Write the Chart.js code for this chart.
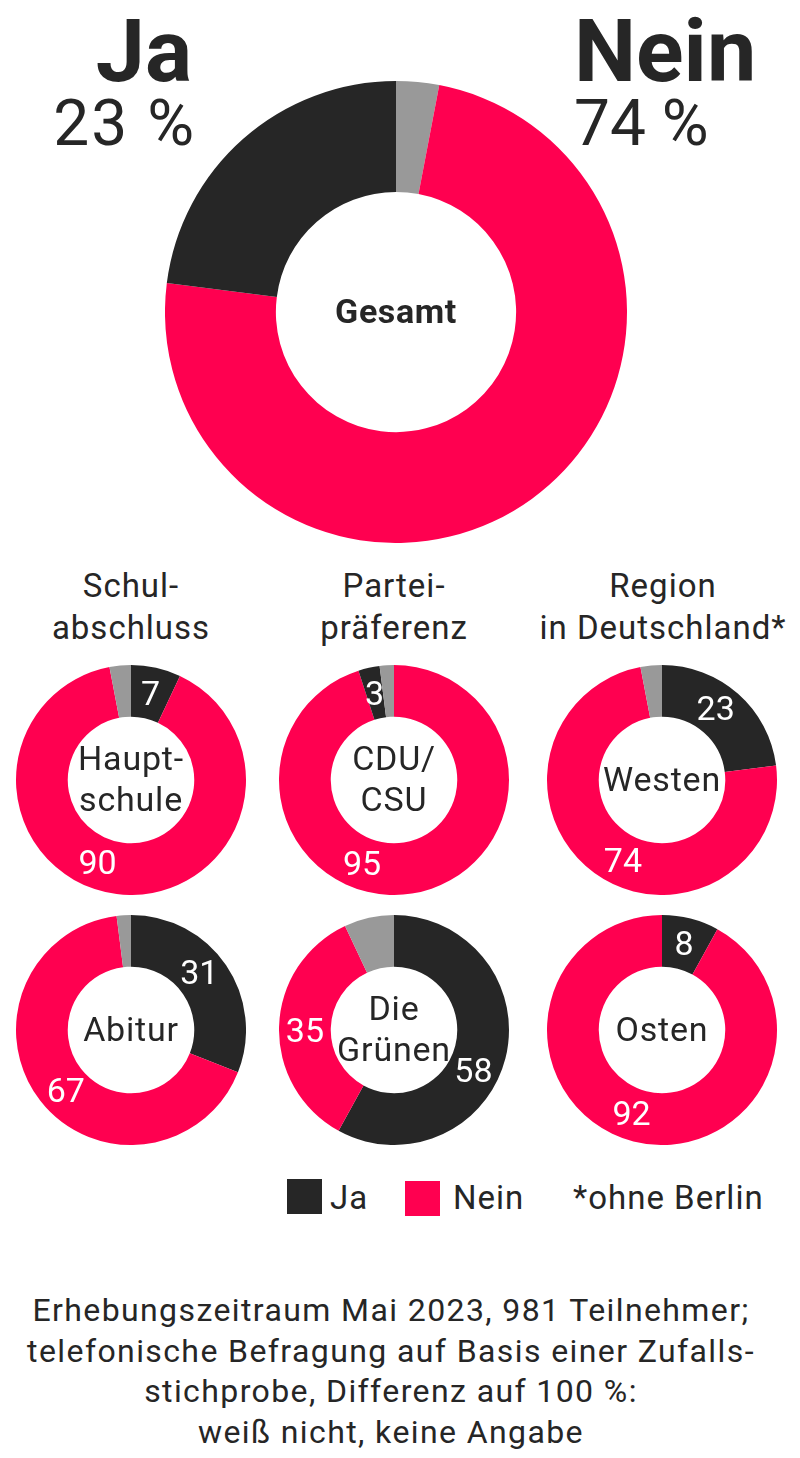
<!DOCTYPE html>
<html lang="de">
<head>
<meta charset="UTF-8">
<title>Umfrage Ja / Nein</title>
<script src="https://cdn.jsdelivr.net/npm/chart.js@4.4.0/dist/chart.umd.min.js"></script>
<style>
  html, body { margin: 0; padding: 0; background: #fff; }
  body { width: 800px; height: 1458px; position: relative; overflow: hidden;
         font-family: Roboto, "Liberation Sans", sans-serif; color: #262626; }
  .abs { position: absolute; }
  .big { font-weight: 700; font-size: 88px; line-height: 88px; }
  .pct { font-size: 64px; line-height: 64px; }
  .group { font-size: 33px; line-height: 42px; letter-spacing: 1px; text-align: center; width: 280px; }
  .legend { font-size: 33px; line-height: 36px; letter-spacing: 1px; }
  .swatch { width: 35px; height: 35px; }
  .note { font-size: 32px; line-height: 40.5px; letter-spacing: 1.4px; text-align: center; width: 800px; left: -9px; }
  canvas { position: absolute; }
</style>
</head>
<body>

<!-- Kopf -->
<div class="abs big" style="right:608px; top:7px;">Ja</div>
<div class="abs pct" style="right:604px; top:92px; letter-spacing:2px;">23 %</div>
<div class="abs big" style="left:574px; top:7px;">Nein</div>
<div class="abs pct" style="left:574px; top:92px;">74 %</div>

<!-- Gruppenüberschriften -->
<div class="abs group" id="g0" style="left:-9px; top:565px;"></div>
<div class="abs group" id="g1" style="left:254px; top:565px;"></div>
<div class="abs group" id="g2" style="left:523px; top:565px;"></div>

<canvas id="c0" width="462" height="462" style="left:165px; top:81px;"></canvas>
<canvas id="c1" width="230" height="230" style="left:16px; top:665px;"></canvas>
<canvas id="c2" width="230" height="230" style="left:16px; top:915px;"></canvas>
<canvas id="c3" width="230" height="230" style="left:279px; top:665px;"></canvas>
<canvas id="c4" width="230" height="230" style="left:279px; top:915px;"></canvas>
<canvas id="c5" width="230" height="230" style="left:547px; top:665px;"></canvas>
<canvas id="c6" width="230" height="230" style="left:547px; top:915px;"></canvas>

<!-- Legende -->
<div class="abs swatch" style="left:287px; top:1179px; background:#262626;"></div>
<div class="abs legend" style="left:330px; top:1180px;">Ja</div>
<div class="abs swatch" style="left:405px; top:1181px; background:#ff0050;"></div>
<div class="abs legend" style="left:453px; top:1180px;">Nein</div>
<div class="abs legend" style="left:573px; top:1180px;">*ohne Berlin</div>

<div class="abs note" style="top:1290px;">Erhebungszeitraum Mai 2023, 981 Teilnehmer;<br>telefonische Befragung auf Basis einer Zufalls-<br>stichprobe, Differenz auf 100 %:<br>weiß nicht, keine Angabe</div>

<script>
// Werte in Prozent
const donutNames = ['Gesamt', 'Haupt-\nschule', 'Abitur', 'CDU/\nCSU', 'Die\nGrünen', 'Westen', 'Osten'];
const jaValues   = [23, 7, 31, 3, 58, 23, 8];
const neinValues = [74, 90, 67, 95, 35, 74, 92];
const restValues = [3, 3, 2, 2, 7, 3, 0];
// Reihenfolge der Segmente im Uhrzeigersinn ab 12 Uhr
const segmentOrder = [
  ['rest', 'nein', 'ja'],
  ['ja', 'nein', 'rest'],
  ['ja', 'nein', 'rest'],
  ['nein', 'ja', 'rest'],
  ['ja', 'nein', 'rest'],
  ['ja', 'nein', 'rest'],
  ['ja', 'nein', 'rest']
];
const groupTitles = ['Schul-\nabschluss', 'Partei-\npräferenz', 'Region\nin Deutschland*'];

const COLORS = { ja: '#262626', nein: '#ff0050', rest: '#999999' };
// wo die Zahl im Ring steht (Grad ab 12 Uhr), sonst Mitte des Segments
const labelAngle = [
  {},
  { nein: 202 },
  { ja: 50, nein: 227 },
  { nein: 201 },
  { ja: 117, nein: 270 },
  { ja: 37, nein: 206 },
  { nein: 200 }
];

groupTitles.forEach((t, i) => {
  document.getElementById('g' + i).innerHTML = t.replace('\n', '<br>');
});

// Zahlen in die Segmente, Name in die Mitte
const donutText = {
  id: 'donutText',
  afterDatasetsDraw(chart, args, opts) {
    const ctx = chart.ctx;
    const meta = chart.getDatasetMeta(0);
    const keys = chart.data.labels;
    ctx.save();
    ctx.textAlign = 'center';
    ctx.textBaseline = 'middle';
    if (opts.showValues) {
      ctx.font = '34px Roboto';
      ctx.fillStyle = '#ffffff';
      meta.data.forEach((arc, i) => {
        if (keys[i] === 'rest') return;
        const p = arc.getProps(['x', 'y', 'startAngle', 'endAngle', 'innerRadius', 'outerRadius']);
        let a = (p.startAngle + p.endAngle) / 2;
        if (opts.angles[keys[i]] !== undefined) a = (opts.angles[keys[i]] - 90) * Math.PI / 180;
        const r = (p.innerRadius + p.outerRadius) / 2;
        ctx.fillText(chart.data.datasets[0].data[i], p.x + Math.cos(a) * r, p.y + Math.sin(a) * r + 3);
      });
    }
    const arc0 = meta.data[0];
    const lines = opts.name.split('\n');
    if (opts.bold) {
      ctx.font = 'bold 34px Roboto';
      ctx.letterSpacing = '0.6px';
    } else {
      ctx.font = '34px Roboto';
      ctx.letterSpacing = '0.8px';
    }
    ctx.fillStyle = '#262626';
    const lh = 41;
    lines.forEach((ln, j) => {
      ctx.fillText(ln, arc0.x, arc0.y + (j - (lines.length - 1) / 2) * lh + 2);
    });
    ctx.restore();
  }
};

donutNames.forEach((name, i) => {
  const vals = { ja: jaValues[i], nein: neinValues[i], rest: restValues[i] };
  const order = segmentOrder[i];
  new Chart(document.getElementById('c' + i), {
    type: 'doughnut',
    data: {
      labels: order,
      datasets: [{
        data: order.map(k => vals[k]),
        backgroundColor: order.map(k => COLORS[k]),
        borderWidth: 0
      }]
    },
    options: {
      responsive: false,
      animation: false,
      cutout: i === 0 ? '52%' : '55%',
      layout: { padding: 0 },
      plugins: {
        legend: { display: false },
        tooltip: { enabled: false },
        donutText: { name: name, bold: i === 0, showValues: i !== 0, angles: labelAngle[i] }
      }
    },
    plugins: [donutText]
  });
});
</script>
</body>
</html>
